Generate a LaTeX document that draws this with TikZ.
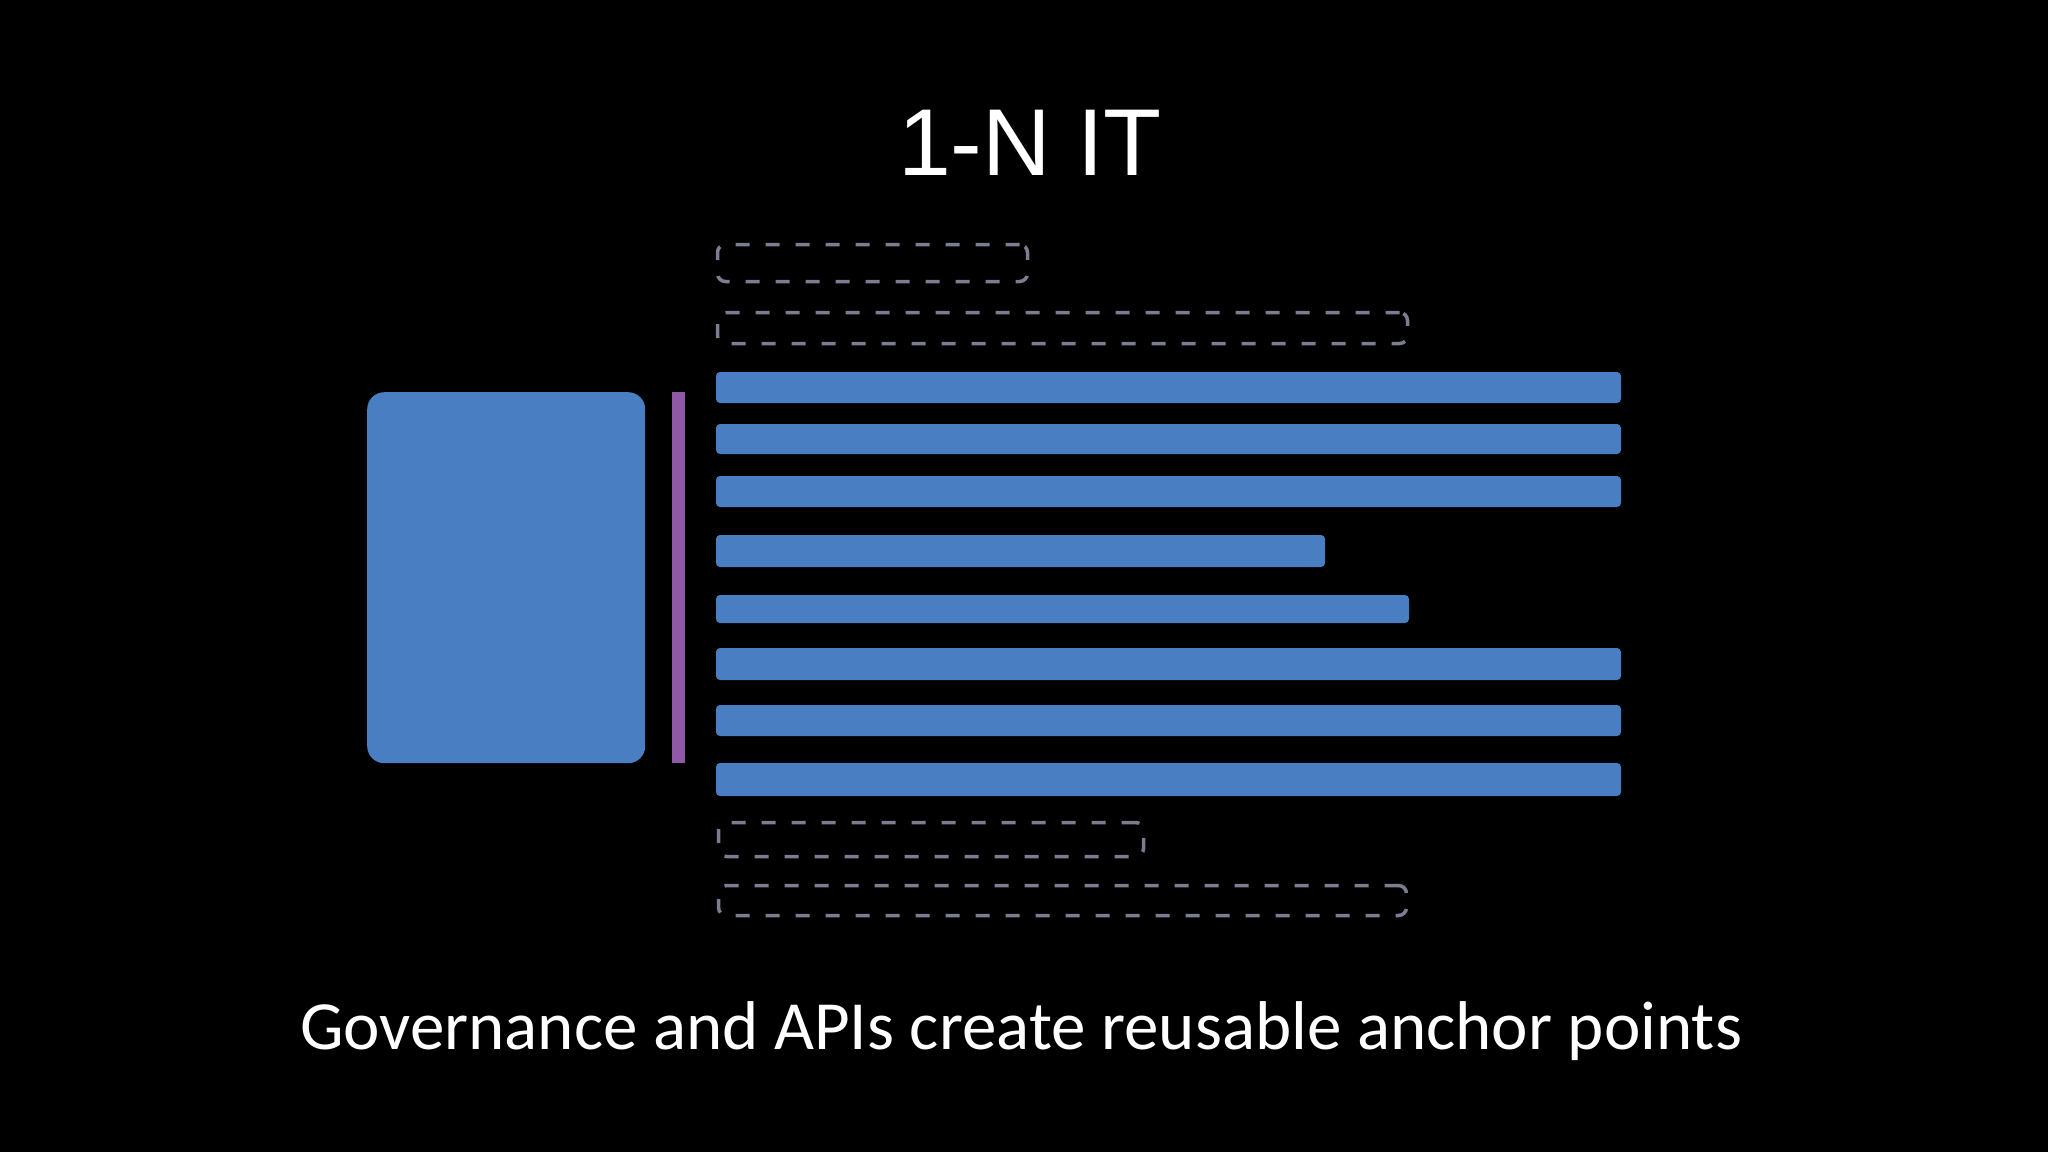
\documentclass[tikz,border=0pt]{standalone}
\usepackage{fontspec}
\newfontfamily\titlefont{Liberation Sans}
\newfontfamily\subfont{Carlito}
\definecolor{barblue}{HTML}{4A7EC3}
\definecolor{anchorpurple}{HTML}{8F59A8}
\definecolor{dashgray}{HTML}{7A7E90}
\tikzset{
  bluebar/.style={fill=barblue, draw=none, rounded corners=4pt, inner sep=0pt, outer sep=0pt, anchor=north west},
  slot/.style={draw=dashgray, line width=3.5pt, dash pattern=on 14pt off 16pt, rounded corners=8pt, inner sep=0pt, outer sep=0pt, anchor=north west},
}
\begin{document}
\begin{tikzpicture}[x=1pt,y=-1pt]
\fill[black] (0,0) rectangle (2048,1152);
\useasboundingbox (0,0) rectangle (2048,1152);
% title
\node[anchor=base, text=white, font=\titlefont\fontsize{95}{110}\selectfont, inner sep=0pt] (title) at (1030,175) {1-N IT};
% big block
\node[fill=barblue, rounded corners=17pt, inner sep=0pt, anchor=north west, minimum width=278pt, minimum height=371pt] (core) at (367,392) {};
% purple anchor line
\node[fill=anchorpurple, inner sep=0pt, anchor=north west, minimum width=13pt, minimum height=371pt] (api) at (672,392) {};
% dashed slots
\node[slot, minimum width=310pt, minimum height=37pt] (d1) at (717.5,244.5) {};
\node[slot, minimum width=690pt, minimum height=31pt] (d2) at (717.5,312.5) {};
\node[slot, minimum width=425pt, minimum height=34pt] (d3) at (718.5,822.5) {};
\node[slot, minimum width=688pt, minimum height=30pt] (d4) at (718.5,885.5) {};
% bars
\node[bluebar, minimum width=905pt, minimum height=31pt] (b1) at (716,372) {};
\node[bluebar, minimum width=905pt, minimum height=30pt] (b2) at (716,424) {};
\node[bluebar, minimum width=905pt, minimum height=31pt] (b3) at (716,476) {};
\node[bluebar, minimum width=609pt, minimum height=32pt] (b4) at (716,535) {};
\node[bluebar, minimum width=693pt, minimum height=28pt] (b5) at (716,595) {};
\node[bluebar, minimum width=905pt, minimum height=32pt] (b6) at (716,648) {};
\node[bluebar, minimum width=905pt, minimum height=31pt] (b7) at (716,705) {};
\node[bluebar, minimum width=905pt, minimum height=33pt] (b8) at (716,763) {};
% subtitle
\node[anchor=base, text=white, font=\subfont\fontsize{69}{80}\selectfont, inner sep=0pt] (caption) at (1021,1049) {Governance and APIs create reusable anchor points};
\end{tikzpicture}
\end{document}
